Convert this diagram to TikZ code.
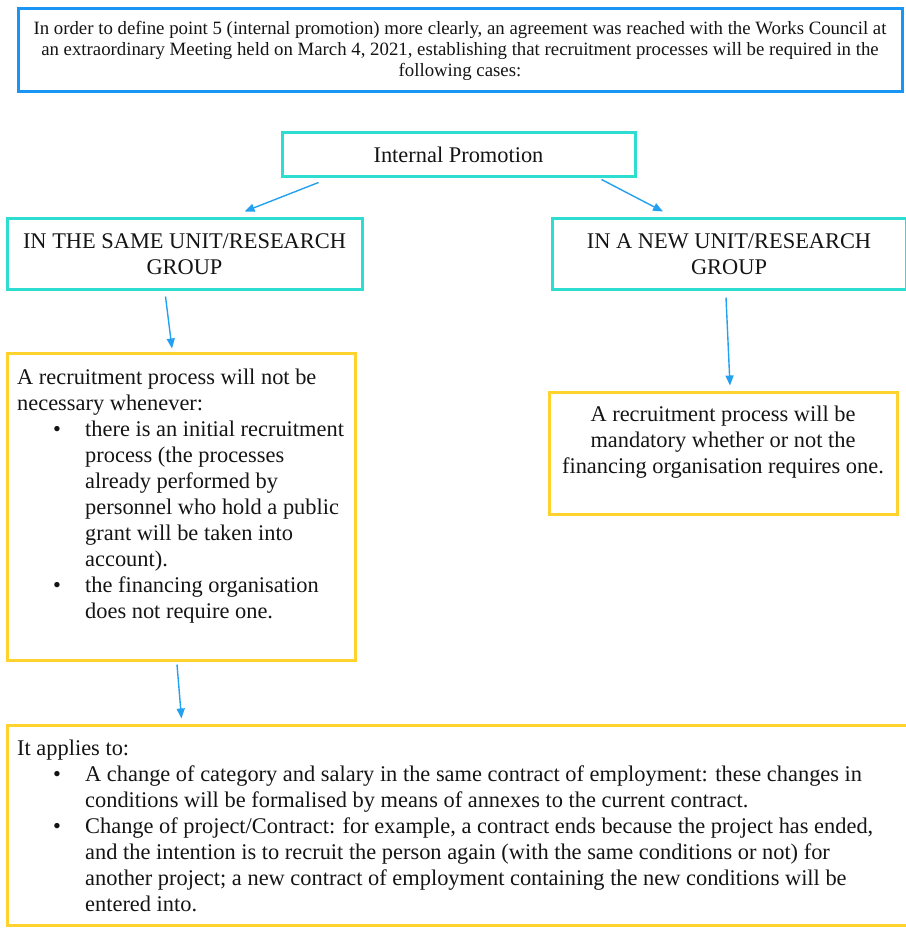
\documentclass[tikz,border=0pt]{standalone}
\usepackage{fontspec}
\setmainfont{Liberation Serif}
\usetikzlibrary{arrows.meta,calc,positioning}
\definecolor{fg}{RGB}{20,20,20}
\definecolor{frame}{RGB}{25,150,245}
\definecolor{teal}{RGB}{45,222,208}
\definecolor{gold}{RGB}{255,210,45}
\definecolor{link}{RGB}{35,160,240}
\newcommand{\bul}{\makebox[68pt][l]{\hspace*{36pt}\textbullet}}
\newcommand{\ind}{\hspace*{68pt}}
\tikzset{
  every picture/.style={x=1pt, y=-1pt, line join=miter},
  every node/.style={font=\fontsize{22.4}{26}\selectfont, text=fg},
  % Kästen
  intro/.style={draw=frame, line width=3pt, align=center,
    font=\fontsize{18.8}{21}\selectfont},
  case/.style={draw=teal, line width=3pt, align=center},
  note/.style={draw=gold, line width=3pt},
  txt/.style={inner sep=0pt, align=left},
  % Pfeile
  arr/.style={link, line width=1.4pt, -{Triangle[length=10pt,width=8pt]}},
}
\begin{document}
\begin{tikzpicture}
  \useasboundingbox (0,0) rectangle (905,933);
  \node[intro, minimum width=884pt, minimum height=83pt] (head) at (460,50.5)
    {In order to define point 5 (internal promotion) more clearly, an agreement was reached with the Works Council at\\
     an extraordinary Meeting held on March 4, 2021, establishing that recruitment processes will be required in the\\
     following cases:};
  % Stufen
  \node[case, minimum width=353pt, minimum height=44pt] (prom) at (458.5,155) {Internal Promotion};
  \node[case, minimum width=355pt, minimum height=70pt] (same) at (184.5,254) {IN THE SAME UNIT/RESEARCH\\GROUP};
  \node[case, minimum width=354pt, minimum height=70pt] (new) at (729,254) {IN A NEW UNIT/RESEARCH\\GROUP};
  \node[note, minimum width=348pt, minimum height=307pt] (not) at (181,506.5) {};
  \node[note, minimum width=348pt, minimum height=122pt] (must) at (723,453) {};
  \node[note, minimum width=905pt, minimum height=200pt] (apply) at (459.5,825) {};
  % Texte (Grundlinie der letzten Zeile)
  \node[txt, anchor=base west] (nottxt) at (17,618)
    {A recruitment process will not be\\
     necessary whenever:\\
     \bul there is an initial recruitment\\
     \ind process (the processes\\
     \ind already performed by\\
     \ind personnel who hold a public\\
     \ind grant will be taken into\\
     \ind account).\\
     \bul the financing organisation\\
     \ind does not require one.};
  \node[txt, align=center, anchor=base] (musttxt) at (723,473)
    {A recruitment process will be\\
     mandatory whether or not the\\
     financing organisation requires one.};
  \node[txt, anchor=base west] (applytxt) at (17,911)
    {It applies to:\\
     \bul A change of category and salary in the same contract of employment: these changes in\\
     \ind conditions will be formalised by means of annexes to the current contract.\\
     \bul Change of project/Contract: for example, a contract ends because the project has ended,\\
     \ind and the intention is to recruit the person again (with the same conditions or not) for\\
     \ind another project; a new contract of employment containing the new conditions will be\\
     \ind entered into.};
  % Verbindungen
  \draw[arr] ([xshift=38pt,yshift=-4pt]prom.south west) -- ([xshift=60pt,yshift=6pt]same.north);
  \draw[arr] ([xshift=-35pt,yshift=-1pt]prom.south east) -- ([xshift=-66pt,yshift=6pt]new.north);
  \draw[arr] ([xshift=-19pt,yshift=-6pt]same.south) -- ([xshift=-9pt,yshift=3pt]not.north);
  \draw[arr] ([xshift=-3pt,yshift=-7pt]new.south) -- ([xshift=7pt,yshift=5pt]must.north);
  \draw[arr] ([xshift=-4pt,yshift=-3pt]not.south) -- ([xshift=176pt,yshift=5pt]apply.north west);
\end{tikzpicture}
\end{document}
